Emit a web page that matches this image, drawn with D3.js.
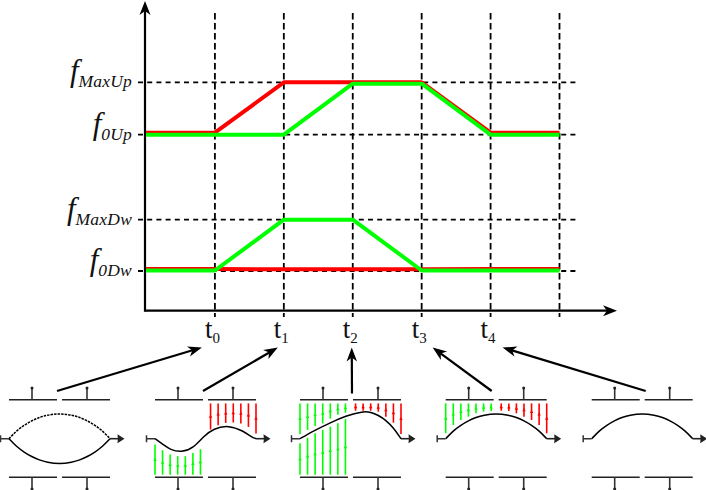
<!DOCTYPE html>
<html>
<head>
<meta charset="utf-8">
<script src="https://cdn.jsdelivr.net/npm/d3@7"></script>
<style>
    html, body { margin: 0; padding: 0; background: #fff; }
    svg { display: block; }
    text { font-family: "Liberation Serif", serif; fill: #111; }
</style>
</head>
<body>
<svg id="chart"></svg>
<script>
// time axis, the first entry is where the lines leave the y axis
const times = [-1, 0, 1, 2, 3, 4, 5]
const tickTimes = [0, 1, 2, 3, 4, 5]
const tickLabels = ['0', '1', '2', '3', '4']

// frequency levels, height above the time axis
const levelNames = ['MaxUp', '0Up', 'MaxDw', '0Dw']
const levelValues = [228.4, 176, 91, 39.7]

const redUp = [178, 178, 228.4, 228.4, 228.4, 178, 178]
const greenUp = [176, 176, 176, 227, 227, 176, 176]
const redDw = [41.7, 41.7, 41.4, 41.4, 41.4, 41.7, 41.7]
const greenDw = [40.2, 40.2, 91, 91, 40.2, 40.2, 40.2]

// membrane shape along the beam (0..1), displacement from rest
const arcPos = [0, 0.075, 0.15, 0.225, 0.3, 0.375, 0.5, 0.625, 0.7, 0.775, 0.85, 0.925, 1]
const arcDisp = [0, 8, 13.5, 18, 21.3, 23.6, 25.3, 23.6, 21.3, 18, 13.5, 8, 0]
const arcDown = [0, -8, -13.5, -18, -21.3, -23.6, -25.3, -23.6, -21.3, -18, -13.5, -8, 0]
const sPos = [0, 0.083, 0.15, 0.264, 0.38, 0.48, 0.58, 0.73, 0.875, 0.957, 1]
const sDisp = [0, -6, -11, -13.7, -9.3, 2.3, 10.3, 13.5, 7.7, 1.7, 0]
const risePos = [0, 0.075, 0.15, 0.3, 0.45, 0.625, 0.7, 0.775, 0.85, 0.925, 1]
const riseDisp = [0, 4.5, 8.5, 16, 22.8, 27.5, 26.5, 23.5, 18.5, 11, 0]

// force bars sit at these positions along the beam
const leftBarPos = [0, 0.075, 0.15, 0.225, 0.3, 0.375, 0.45]
const rightBarPos = [0.55, 0.625, 0.7, 0.775, 0.85, 0.925, 1]

// where each force bar ends, the other end is on the electrode
const s_greenBelow = [-5.8, -11.5, -15.8, -17.5, -17.5, -14.2, -10.5]
const s_redAbove = [9.2, 13.5, 15.8, 16.2, 15.2, 11.8, 5.2]
const rise_greenAbove = [4.7, 8.7, 12.7, 15.3, 20, 24, 26]
const rise_greenBelow = [-4.6, 1, 5.4, 8.7, 12, 15.4, 19.7]
const rise_redAbove = [28, 28, 28, 27, 22, 16, 4.7]
const arc_greenAbove = [5.4, 13.7, 18.7, 22, 25.4, 27, 27.7]
const arc_redAbove = [28, 27.7, 25.4, 22, 18.7, 13.7, 5.4]

// Set up SVG dimensions
const svgWidth = 706
const svgHeight = 490
const red = '#ff0000'
const green = '#00ff00'
const ink = '#000'

const svg = d3.select('#chart').attr('width', svgWidth).attr('height', svgHeight)

const x = d3.scaleLinear().domain([-1, 5]).range([146, 559.5])
const y = d3.scaleLinear().domain([0, 310]).range([310.7, 0.7])

function arrowHead(g, tipX, tipY, angle, len, wide, color, notch = 0.72) {
    // concave head, drawn pointing right then rotated
    g.append('path')
        .attr('d', `M0,0 L${-len},${-wide / 2} L${-len * notch},0 L${-len},${wide / 2} Z`)
        .attr('transform', `translate(${tipX},${tipY}) rotate(${angle})`)
        .attr('fill', color)
}

function arrow(g, x1, y1, x2, y2, width, len, wide) {
    const angle = Math.atan2(y2 - y1, x2 - x1) * 180 / Math.PI
    const back = len * 0.7
    const l = Math.hypot(x2 - x1, y2 - y1)
    g.append('line')
        .attr('x1', x1).attr('y1', y1)
        .attr('x2', x2 - (x2 - x1) / l * back).attr('y2', y2 - (y2 - y1) / l * back)
        .attr('stroke', ink).attr('stroke-width', width)
    arrowHead(g, x2, y2, angle, len, wide, ink)
}

// Dashed guides first so the traces cover them
const guides = svg.append('g').attr('stroke', ink).attr('stroke-width', 1.8)
tickTimes.forEach(t => {
    guides.append('line')
        .attr('x1', x(t)).attr('x2', x(t))
        .attr('y1', 13).attr('y2', 317)
        .attr('stroke-dasharray', '6.5,3.5')
})
levelValues.forEach(v => {
    guides.append('line')
        .attr('x1', 138).attr('x2', 579)
        .attr('y1', y(v)).attr('y2', y(v))
        .attr('stroke-dasharray', '5,4.2')
})

// Axes
const axes = svg.append('g')
arrow(axes, x(-1) - 1, y(0), 617, y(0), 2.2, 14, 11)
arrow(axes, x(-1) - 1, y(0) + 1, x(-1) - 1, 1, 2.2, 14, 11)

// Traces, red under green
const line = d3.line().x((d, i) => x(times[i])).y(d => y(d))
const traces = [[redUp, red], [redDw, red], [greenUp, green], [greenDw, green]]
traces.forEach(([values, color]) => {
    svg.append('path')
        .attr('d', line(values))
        .attr('fill', 'none')
        .attr('stroke', color)
        .attr('stroke-width', 4)
        .attr('stroke-linejoin', 'round')
})

// Level labels
levelNames.forEach((name, i) => {
    const label = svg.append('text')
        .attr('x', 132)
        .attr('y', y(levelValues[i]) - 1)
        .attr('text-anchor', 'end')
        .attr('font-style', 'italic')
    label.append('tspan').attr('font-size', 31).text('f')
    label.append('tspan').attr('font-size', 17.5).attr('letter-spacing', 0.2).attr('dy', 6).text(name)
})

// Time labels
tickLabels.forEach((name, i) => {
    const label = svg.append('text')
        .attr('x', x(i) - 2.5)
        .attr('y', 338.3)
        .attr('text-anchor', 'middle')
    label.append('tspan').attr('font-size', 27).text('t')
    label.append('tspan').attr('font-size', 15).attr('dy', 5).text(name)
})

// Membrane panels
const panels = [
    { left: 9, tail: 48, tipDx: -13, shapes: [[arcPos, arcDown, false], [arcPos, arcDisp, true]], bars: [] },
    { left: 155, tail: 48, tipDx: -6, shapes: [[sPos, sDisp, false]],
        bars: [[leftBarPos, s_greenBelow, green, -36], [rightBarPos, s_redAbove, red, 35.3]] },
    { left: 300, tail: 52, tipDx: -1, shapes: [[risePos, riseDisp, false]],
        bars: [[leftBarPos, rise_greenAbove, green, 35.3], [leftBarPos, rise_greenBelow, green, -36], [rightBarPos, rise_redAbove, red, 35.3]] },
    { left: 445.7, tail: 46, tipDx: 11, shapes: [[arcPos, arcDisp, false]],
        bars: [[leftBarPos, arc_greenAbove, green, 35.3], [rightBarPos, arc_redAbove, red, 35.3]] },
    { left: 591.7, tail: 54, tipDx: 12, shapes: [[arcPos, arcDisp, false]], bars: [] }
]

const beamLength = 101
const restY = 438.7
const disp = d3.scaleLinear().domain([-1, 1]).range([restY + 1, restY - 1])

panels.forEach((panel, index) => {
    const g = svg.append('g')
    const pos = d3.scaleLinear().domain([0, 1]).range([panel.left, panel.left + beamLength])

    // Electrodes with their stems
    const electrodes = [[0, 48, 23], [53, 101, 78]]
    const rows = [[399.7, 388], [477.3, 489]]
    rows.forEach(([rowY, endY]) => {
        electrodes.forEach(([a, b, stem]) => {
            g.append('line')
                .attr('x1', panel.left + a).attr('x2', panel.left + b)
                .attr('y1', rowY).attr('y2', rowY)
                .attr('stroke', '#222').attr('stroke-width', 1.6)
            g.append('line')
                .attr('x1', panel.left + stem).attr('x2', panel.left + stem)
                .attr('y1', rowY).attr('y2', endY)
                .attr('stroke', '#333').attr('stroke-width', 1.6)
            g.append('circle')
                .attr('cx', panel.left + stem).attr('cy', endY).attr('r', 1.5)
                .attr('fill', '#222')
        })
    })

    // Force bars with a small head half way
    panel.bars.forEach(([barPos, ends, color, from]) => {
        ends.forEach((end, i) => {
            const bx = pos(barPos[i])
            g.append('line')
                .attr('x1', bx).attr('x2', bx)
                .attr('y1', disp(from)).attr('y2', disp(end))
                .attr('stroke', color).attr('stroke-width', 1.6)
            const mid = (disp(from) + disp(end)) / 2
            g.append('path')
                .attr('d', `M${bx},${mid - 2} L${bx + 1.7},${mid + 1.3} L${bx - 1.7},${mid + 1.3} Z`)
                .attr('fill', color)
        })
    })

    // Membrane
    panel.shapes.forEach(([shapePos, shapeDisp, dashed]) => {
        const shape = d3.line()
            .x((d, i) => pos(shapePos[i]))
            .y(d => disp(d))
            .curve(d3.curveBasis)
        g.append('path')
            .attr('d', shape(shapeDisp))
            .attr('fill', 'none')
            .attr('stroke', ink)
            .attr('stroke-width', 1.5)
            .attr('stroke-dasharray', dashed ? '2.5,1' : null)
    })

    // Anchor on the left, output stub and head on the right
    g.append('path')
        .attr('d', `M${pos(0) - 8.5},${restY - 3.5} V${restY + 3.5} M${pos(0) - 8.5},${restY} H${pos(0)}`)
        .attr('fill', 'none').attr('stroke', '#333').attr('stroke-width', 1.5)
    g.append('line')
        .attr('x1', pos(1)).attr('x2', pos(1) + 10)
        .attr('y1', restY).attr('y2', restY)
        .attr('stroke', '#222').attr('stroke-width', 1.6)
    arrowHead(g, pos(1) + 14.5, restY, 0, 7, 9, '#222', 0.95)

    // Big arrow from the panel up to its time tick
    arrow(svg, panel.left + panel.tail, index === 2 ? 393.5 : 391, x(index) + panel.tipDx, 347.5, 2.2, 14, 10.5)
})
</script>
</body>
</html>
